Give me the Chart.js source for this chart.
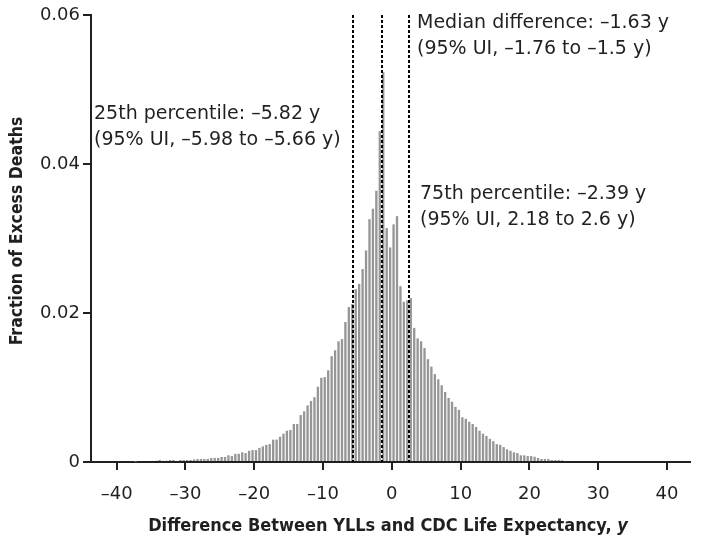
<!DOCTYPE html>
<html>
<head>
<meta charset="utf-8">
<script src="https://cdn.jsdelivr.net/npm/chart.js@4.4.1/dist/chart.umd.min.js"></script>
<style>
  html, body { margin: 0; padding: 0; background: #fff; }
  #wrap { width: 701px; height: 543px; }
</style>
</head>
<body>
<div id="wrap"><canvas id="hist" width="701" height="543"></canvas></div>
<script>
// bin centres (years), 0.5-y bins
const binCenters = [
  -37.75, -37.25, -36.75, -36.25, -35.75, -35.25, -34.75, -34.25, -33.75, -33.25,
  -32.75, -32.25, -31.75, -31.25, -30.75, -30.25, -29.75, -29.25, -28.75, -28.25,
  -27.75, -27.25, -26.75, -26.25, -25.75, -25.25, -24.75, -24.25, -23.75, -23.25,
  -22.75, -22.25, -21.75, -21.25, -20.75, -20.25, -19.75, -19.25, -18.75, -18.25,
  -17.75, -17.25, -16.75, -16.25, -15.75, -15.25, -14.75, -14.25, -13.75, -13.25,
  -12.75, -12.25, -11.75, -11.25, -10.75, -10.25, -9.75, -9.25, -8.75, -8.25,
  -7.75, -7.25, -6.75, -6.25, -5.75, -5.25, -4.75, -4.25, -3.75, -3.25,
  -2.75, -2.25, -1.75, -1.25, -0.75, -0.25, 0.25, 0.75, 1.25, 1.75,
  2.25, 2.75, 3.25, 3.75, 4.25, 4.75, 5.25, 5.75, 6.25, 6.75,
  7.25, 7.75, 8.25, 8.75, 9.25, 9.75, 10.25, 10.75, 11.25, 11.75,
  12.25, 12.75, 13.25, 13.75, 14.25, 14.75, 15.25, 15.75, 16.25, 16.75,
  17.25, 17.75, 18.25, 18.75, 19.25, 19.75, 20.25, 20.75, 21.25, 21.75,
  22.25, 22.75, 23.25, 23.75, 24.25, 24.75, 25.25, 25.75, 26.25
];

// fraction of excess deaths per bin
const fraction = [
  0.00013, 0.00005, 0.00013, 0.00013, 0.00014, 0.00013, 0.00014, 0.00016, 0.00027, 0.00016,
  0.00017, 0.00027, 0.00027, 0.00014, 0.00027, 0.00028, 0.00028, 0.00028, 0.00034, 0.0004,
  0.0004, 0.00041, 0.00042, 0.00054, 0.00055, 0.00055, 0.00067, 0.00068, 0.0009, 0.0008,
  0.0011, 0.0011, 0.0013, 0.0012, 0.0015, 0.0016, 0.0016, 0.0019, 0.0021, 0.0023,
  0.0024, 0.0030, 0.0030, 0.0034, 0.0038, 0.0042, 0.0043, 0.0051, 0.0051, 0.0063,
  0.0068, 0.0076, 0.0082, 0.0087, 0.0101, 0.0113, 0.0114, 0.0123, 0.0142, 0.0150,
  0.0162, 0.0165, 0.0188, 0.0208, 0.0212, 0.0232, 0.0239, 0.0259, 0.0284, 0.0326,
  0.0340, 0.0364, 0.0444, 0.0523, 0.0314, 0.0288, 0.0319, 0.0330, 0.0236, 0.0215,
  0.0217, 0.0220, 0.0180, 0.0166, 0.0162, 0.0153, 0.0138, 0.0128, 0.0118, 0.0111,
  0.0103, 0.0094, 0.0086, 0.0081, 0.0074, 0.0070, 0.0060, 0.0058, 0.0054, 0.0051,
  0.0047, 0.0042, 0.0038, 0.0035, 0.0031, 0.0028, 0.0024, 0.0023, 0.0020, 0.0017,
  0.0015, 0.0013, 0.0012, 0.0009, 0.0009, 0.0008, 0.0008, 0.0007, 0.00054, 0.0004,
  0.0004, 0.0004, 0.00027, 0.00027, 0.00027, 0.00022, 0.00013, 0.00013, 0.00013
];

const xTicks = [-40, -30, -20, -10, 0, 10, 20, 30, 40];
const yTicks = [0, 0.02, 0.04, 0.06];

// dashed reference lines and their labels
const markerValues = [-5.82, -1.63, 2.39];
const notes = [
  { lines: ["25th percentile: \u20135.82 y", "(95% UI, \u20135.98 to \u20135.66 y)"], x: 94, y: 114 },
  { lines: ["Median difference: \u20131.63 y", "(95% UI, \u20131.76 to \u20131.5 y)"], x: 417, y: 23 },
  { lines: ["75th percentile: \u20132.39 y", "(95% UI, 2.18 to 2.6 y)"], x: 420, y: 194 },
];

const INK = "#231f20";
const FONT = "'DejaVu Sans', sans-serif";
const TITLE_FONT = "'DejaVu Sans Condensed', 'DejaVu Sans', sans-serif";

const fmtMinus = (v) => (v < 0 ? "\u2013" + Math.abs(v) : String(v));

const overlay = {
  id: "overlay",
  afterDatasetsDraw(chart) {
    const { ctx, chartArea, scales } = chart;
    ctx.save();
    ctx.strokeStyle = "#000";
    ctx.lineWidth = 2;
    ctx.setLineDash([3, 2]);
    for (const v of markerValues) {
      const px = Math.round(scales.x.getPixelForValue(v)) + 1;
      ctx.beginPath();
      ctx.moveTo(px, chartArea.top);
      ctx.lineTo(px, chartArea.bottom);
      ctx.stroke();
    }
    ctx.restore();
  },
  afterDraw(chart) {
    const { ctx } = chart;
    ctx.save();
    ctx.fillStyle = INK;
    ctx.textBaseline = "middle";

    // annotations
    ctx.font = "19px " + FONT;
    ctx.textAlign = "left";
    for (const n of notes) {
      n.lines.forEach((t, i) => ctx.fillText(t, n.x, n.y + i * 26));
    }

    // x title, with the italic y
    const base = "Difference Between YLLs and CDC Life Expectancy, ";
    ctx.font = "bold 18px " + TITLE_FONT;
    const w1 = ctx.measureText(base).width;
    ctx.font = "italic bold 18px " + TITLE_FONT;
    const w2 = ctx.measureText("y").width;
    const x0 = 388 - (w1 + w2) / 2;
    ctx.font = "bold 18px " + TITLE_FONT;
    ctx.fillText(base, x0, 526);
    ctx.font = "italic bold 18px " + TITLE_FONT;
    ctx.fillText("y", x0 + w1, 526);

    // y title
    ctx.font = "bold 17.5px " + TITLE_FONT;
    ctx.textAlign = "center";
    ctx.translate(17, 231);
    ctx.rotate(-Math.PI / 2);
    ctx.fillText("Fraction of Excess Deaths", 0, 0);
    ctx.restore();
  },
};

new Chart(document.getElementById("hist"), {
  type: "bar",
  data: {
    datasets: [
      {
        label: "Fraction of Excess Deaths",
        data: binCenters.map((c, i) => ({ x: c, y: fraction[i] })),
        backgroundColor: "#969696",
        borderWidth: 0,
        barPercentage: 0.68,
        categoryPercentage: 1,
      },
    ],
  },
  options: {
    responsive: false,
    animation: false,
    layout: { padding: { left: 0, right: 11, top: 15, bottom: 0 } },
    plugins: {
      legend: { display: false },
      tooltip: { enabled: false },
    },
    scales: {
      x: {
        type: "linear",
        offset: false,
        min: -43.73,
        max: 43.34,
        afterBuildTicks: (s) => { s.ticks = xTicks.map((v) => ({ value: v })); },
        afterFit: (s) => { s.height = 81; },
        border: { display: true, color: INK, width: 2 },
        grid: { offset: false, drawOnChartArea: false, drawTicks: true, tickLength: 8, color: INK, lineWidth: 2 },
        ticks: {
          color: INK,
          font: { family: FONT, size: 18 },
          padding: 14,
          maxRotation: 0,
          callback: (v) => fmtMinus(v),
        },
      },
      y: {
        min: 0,
        max: 0.06,
        afterBuildTicks: (s) => { s.ticks = yTicks.map((v) => ({ value: v })); },
        afterFit: (s) => { s.width = 91; },
        border: { display: true, color: INK, width: 2 },
        grid: { drawOnChartArea: false, drawTicks: true, tickLength: 8, color: INK, lineWidth: 2 },
        ticks: {
          color: INK,
          font: { family: FONT, size: 18 },
          padding: 3,
          callback: (v) => (v === 0 ? "0" : v.toFixed(2)),
        },
      },
    },
  },
  plugins: [overlay],
});
</script>
</body>
</html>
